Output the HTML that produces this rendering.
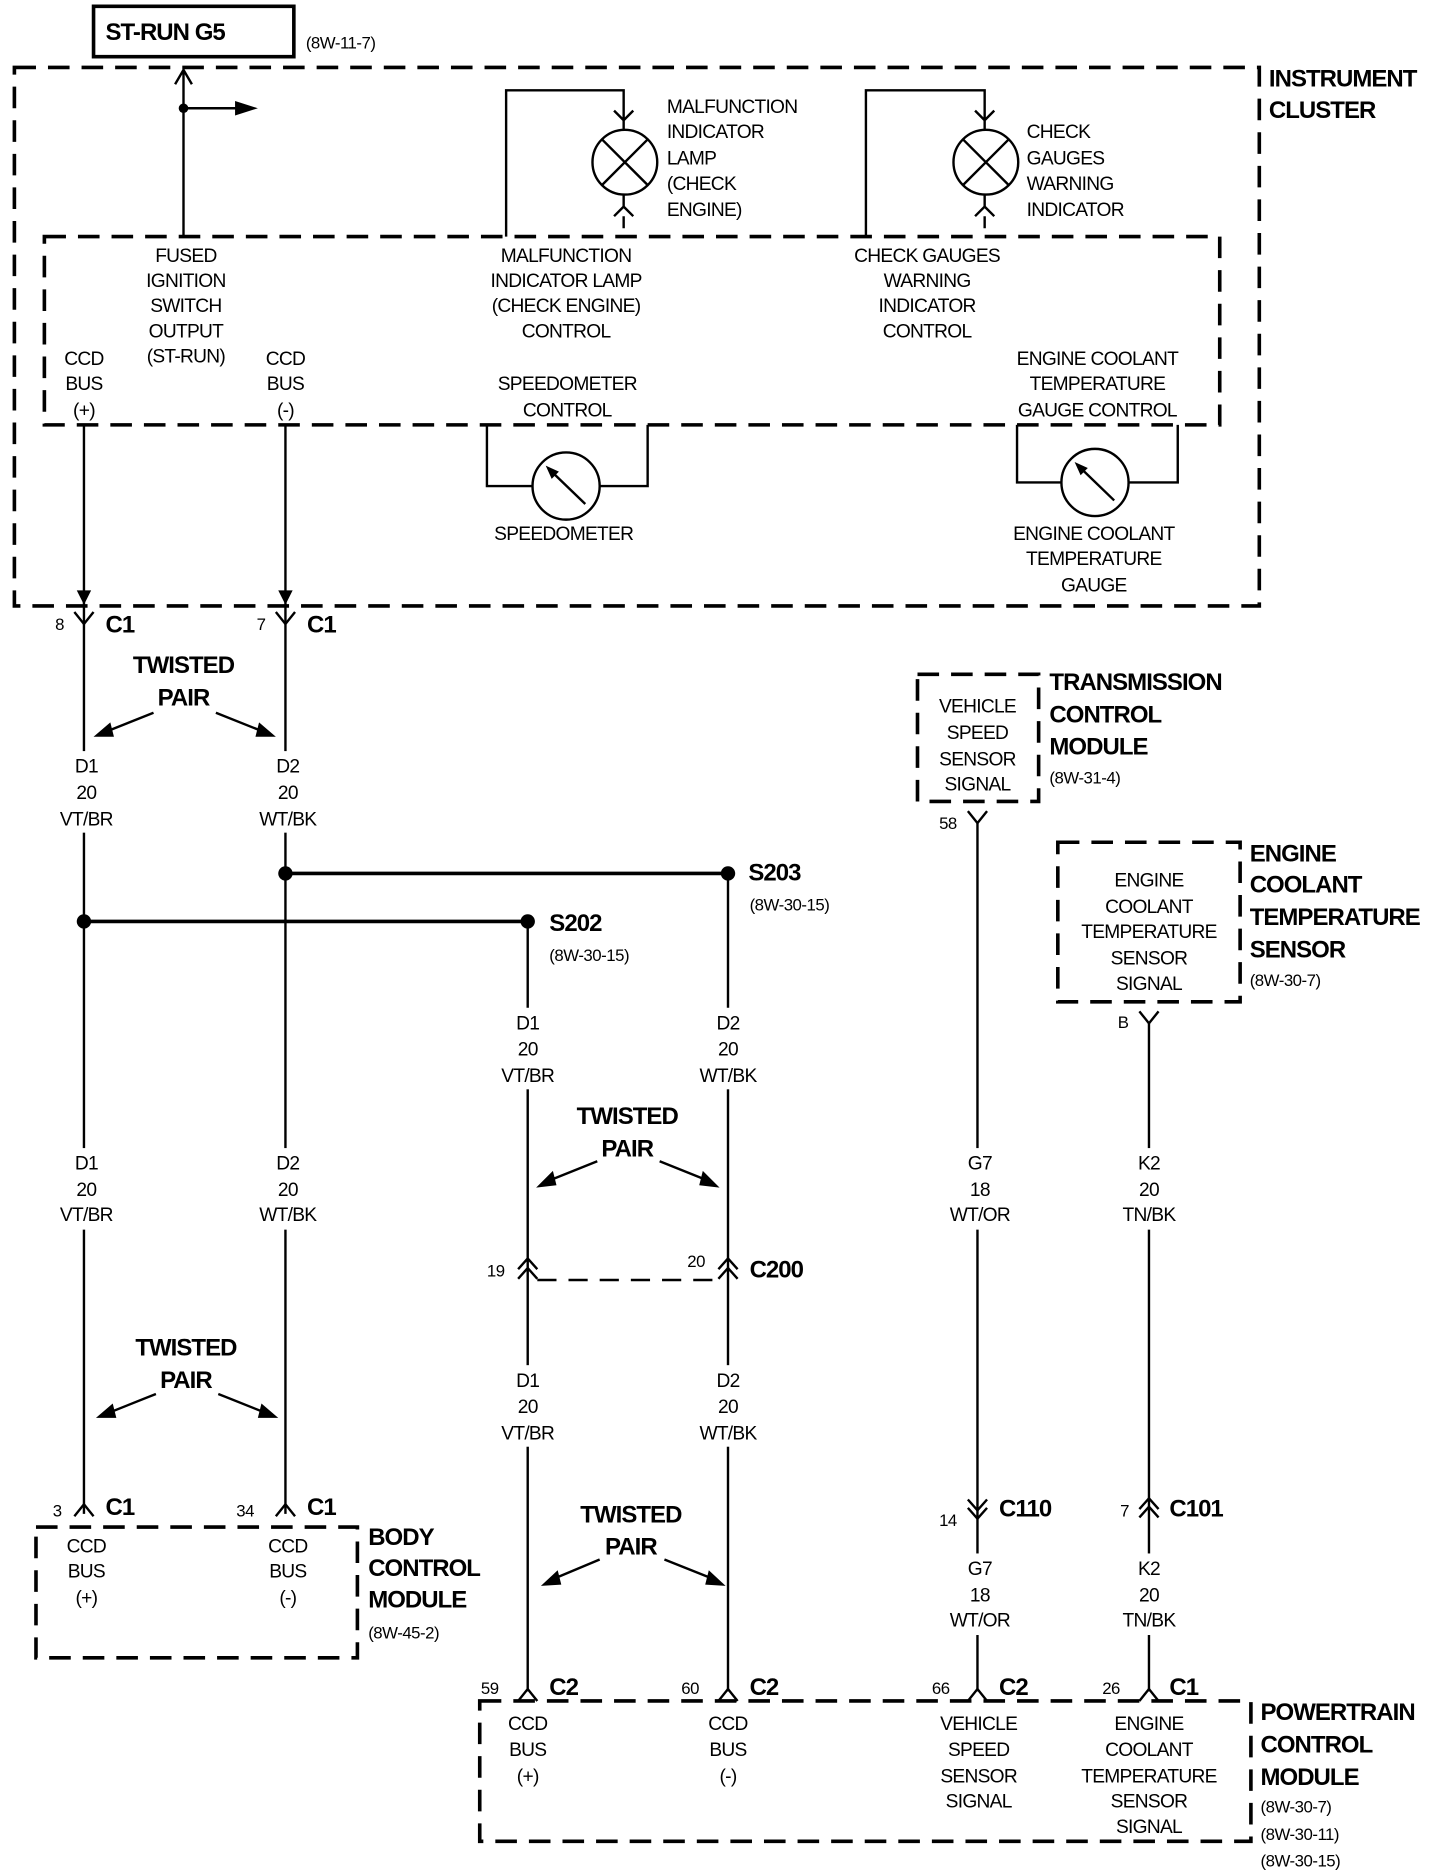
<!DOCTYPE html>
<html><head><meta charset="utf-8"><style>
html,body{margin:0;padding:0;background:#fff}
svg{display:block}
text{font-family:"Liberation Sans",Arial,sans-serif;fill:#000}
.t{font-size:16px;text-anchor:middle;letter-spacing:-0.6px}
.l{font-size:16px;letter-spacing:-0.6px}
.b{font-size:20px;font-weight:bold;letter-spacing:-0.8px}
.s{font-size:14px;letter-spacing:-0.4px}
.w{stroke:#000;stroke-width:2;fill:none}
.d{stroke:#000;stroke-width:3;fill:none;stroke-dasharray:18,10}
.d2{stroke:#000;stroke-width:2;fill:none;stroke-dasharray:16,10}
.g{fill:#fff}
</style></head><body>
<svg width="1456" height="1874" viewBox="0 0 1214 1562" xmlns="http://www.w3.org/2000/svg">
<rect x="0" y="0" width="1214" height="1562" fill="#fff"/>
<!-- ST-RUN -->
<rect x="78" y="5" width="167" height="42" fill="none" stroke="#000" stroke-width="3"/>
<text x="88" y="33" class="b">ST-RUN G5</text>
<text x="255" y="40" class="s">(8W-11-7)</text>
<rect x="12" y="56" width="1038" height="449" class="d"/>
<rect x="37" y="197" width="980" height="157" class="d"/>
<text x="1058" y="72" class="b">INSTRUMENT</text>
<text x="1058" y="98" class="b">CLUSTER</text>
<path class="w" d="M153 58V197M146 70L153 58L160 70M153 90H198"/>
<circle cx="153" cy="90" r="4"/>
<path d="M196 84L215 90L196 96Z"/>
<g class="t">
<text x="155" y="218">FUSED</text><text x="155" y="239">IGNITION</text><text x="155" y="260">SWITCH</text><text x="155" y="281">OUTPUT</text><text x="155" y="302">(ST-RUN)</text>
<text x="70" y="304">CCD</text><text x="70" y="325">BUS</text><text x="70" y="347">(+)</text>
<text x="238" y="304">CCD</text><text x="238" y="325">BUS</text><text x="238" y="347">(-)</text>
<text x="472" y="218">MALFUNCTION</text><text x="472" y="239">INDICATOR LAMP</text><text x="472" y="260">(CHECK ENGINE)</text><text x="472" y="281">CONTROL</text>
<text x="773" y="218">CHECK GAUGES</text><text x="773" y="239">WARNING</text><text x="773" y="260">INDICATOR</text><text x="773" y="281">CONTROL</text>
<text x="473" y="325">SPEEDOMETER</text><text x="473" y="347">CONTROL</text>
<text x="915" y="304">ENGINE COOLANT</text><text x="915" y="325">TEMPERATURE</text><text x="915" y="347">GAUGE CONTROL</text>
<text x="470" y="450">SPEEDOMETER</text>
<text x="912" y="450">ENGINE COOLANT</text><text x="912" y="471">TEMPERATURE</text><text x="912" y="493">GAUGE</text>
</g>
<path class="w" d="M422 197V75H520V100M512 92L520 100L528 92M520 100V108M520 162V172M512 180L520 172L528 180M520 180V190"/>
<circle cx="521" cy="135" r="27" class="w"/>
<path class="w" d="M502 116L540 154M540 116L502 154"/>
<g class="l"><text x="556" y="94">MALFUNCTION</text><text x="556" y="115">INDICATOR</text><text x="556" y="137">LAMP</text><text x="556" y="158">(CHECK</text><text x="556" y="180">ENGINE)</text></g>
<path class="w" d="M722 197V75H821V100M813 92L821 100L829 92M821 100V108M821 162V172M813 180L821 172L829 180M821 180V190"/>
<circle cx="822" cy="135" r="27" class="w"/>
<path class="w" d="M803 116L841 154M841 116L803 154"/>
<g class="l"><text x="856" y="115">CHECK</text><text x="856" y="137">GAUGES</text><text x="856" y="158">WARNING</text><text x="856" y="180">INDICATOR</text></g>
<path class="w" d="M406 354V405H444M540 354V405H500"/>
<circle cx="472" cy="405" r="28" class="w"/>
<path class="w" d="M459 392L488 420"/><path d="M455 388L466 393L460 399Z"/>
<path class="w" d="M848 354V402H885M982 354V402H941"/>
<circle cx="913" cy="402" r="28" class="w"/>
<path class="w" d="M900 389L929 417"/><path d="M896 385L907 390L901 396Z"/>
<!-- wires -->
<path class="w" d="M70 354V1262M238 354V1262M440 768V1410M607 728V1410M815 686V1410M958 853V1410"/>
<!-- label gaps -->
<g class="g">
<rect x="40" y="626" width="60" height="68"/><rect x="208" y="626" width="60" height="68"/>
<rect x="40" y="957" width="60" height="68"/><rect x="208" y="957" width="60" height="68"/>
<rect x="410" y="840" width="60" height="68"/><rect x="577" y="840" width="60" height="68"/>
<rect x="410" y="1138" width="60" height="68"/><rect x="577" y="1138" width="60" height="68"/>
<rect x="785" y="957" width="60" height="68"/><rect x="928" y="957" width="60" height="68"/>
<rect x="785" y="1295" width="60" height="68"/><rect x="928" y="1295" width="60" height="68"/>
</g>
<path d="M64 492L70 504L76 492Z M232 492L238 504L244 492Z"/>
<path class="w" d="M62 510L70 520L78 510M230 510L238 520L246 510"/>
<text x="46" y="525" class="s">8</text><text x="88" y="527" class="b">C1</text>
<text x="214" y="525" class="s">7</text><text x="256" y="527" class="b">C1</text>
<text x="153" y="561" class="b" text-anchor="middle">TWISTED</text><text x="153" y="588" class="b" text-anchor="middle">PAIR</text>
<path class="w" d="M128 594L88 610M180 594L220 610"/>
<path d="M78 614L92 602L95 614Z M230 614L216 602L213 614Z"/>
<g class="t">
<text x="72" y="644">D1</text><text x="72" y="666">20</text><text x="72" y="688">VT/BR</text>
<text x="240" y="644">D2</text><text x="240" y="666">20</text><text x="240" y="688">WT/BK</text>
<text x="72" y="975">D1</text><text x="72" y="997">20</text><text x="72" y="1018">VT/BR</text>
<text x="240" y="975">D2</text><text x="240" y="997">20</text><text x="240" y="1018">WT/BK</text>
</g>
<path stroke="#000" stroke-width="3" d="M238 728H607M70 768H440"/>
<circle cx="238" cy="728" r="6"/><circle cx="607" cy="728" r="6"/>
<circle cx="70" cy="768" r="6"/><circle cx="440" cy="768" r="6"/>
<text x="624" y="734" class="b">S203</text><text x="625" y="759" class="s">(8W-30-15)</text>
<text x="458" y="776" class="b">S202</text><text x="458" y="801" class="s">(8W-30-15)</text>
<text x="155" y="1130" class="b" text-anchor="middle">TWISTED</text><text x="155" y="1157" class="b" text-anchor="middle">PAIR</text>
<path class="w" d="M130 1162L90 1178M182 1162L222 1178"/>
<path d="M80 1182L94 1170L97 1182Z M232 1182L218 1170L215 1182Z"/>
<path class="w" d="M62 1264L70 1254L78 1264M230 1264L238 1254L246 1264"/>
<text x="44" y="1264" class="s">3</text><text x="88" y="1263" class="b">C1</text>
<text x="197" y="1264" class="s">34</text><text x="256" y="1263" class="b">C1</text>
<rect x="30" y="1273" width="268" height="109" class="d"/>
<g class="t">
<text x="72" y="1294">CCD</text><text x="72" y="1315">BUS</text><text x="72" y="1337">(+)</text>
<text x="240" y="1294">CCD</text><text x="240" y="1315">BUS</text><text x="240" y="1337">(-)</text>
</g>
<text x="307" y="1288" class="b">BODY</text><text x="307" y="1314" class="b">CONTROL</text><text x="307" y="1340" class="b">MODULE</text>
<text x="307" y="1366" class="s">(8W-45-2)</text>
<g class="t">
<text x="440" y="858">D1</text><text x="440" y="880">20</text><text x="440" y="902">VT/BR</text>
<text x="607" y="858">D2</text><text x="607" y="880">20</text><text x="607" y="902">WT/BK</text>
<text x="440" y="1156">D1</text><text x="440" y="1178">20</text><text x="440" y="1200">VT/BR</text>
<text x="607" y="1156">D2</text><text x="607" y="1178">20</text><text x="607" y="1200">WT/BK</text>
</g>
<text x="523" y="937" class="b" text-anchor="middle">TWISTED</text><text x="523" y="964" class="b" text-anchor="middle">PAIR</text>
<path class="w" d="M498 968L458 984M550 968L590 984"/>
<path d="M447 990L461 976L464 988Z M600 990L586 976L583 988Z"/>
<path class="w" d="M432 1058L440 1049L448 1058M432 1066L440 1057L448 1066M599 1058L607 1049L615 1058M599 1066L607 1057L615 1066"/>
<path class="d2" d="M448 1067H599"/>
<text x="406" y="1064" class="s">19</text><text x="573" y="1056" class="s">20</text>
<text x="625" y="1065" class="b">C200</text>
<text x="526" y="1269" class="b" text-anchor="middle">TWISTED</text><text x="526" y="1296" class="b" text-anchor="middle">PAIR</text>
<path class="w" d="M500 1300L462 1316M554 1300L594 1316"/>
<path d="M451 1322L465 1309L468 1321Z M605 1322L591 1309L588 1321Z"/>
<rect x="765" y="562" width="101" height="106" class="d"/>
<g class="t"><text x="815" y="594">VEHICLE</text><text x="815" y="616">SPEED</text><text x="815" y="638">SENSOR</text><text x="815" y="659">SIGNAL</text></g>
<text x="875" y="575" class="b">TRANSMISSION</text><text x="875" y="602" class="b">CONTROL</text><text x="875" y="629" class="b">MODULE</text>
<text x="875" y="653" class="s">(8W-31-4)</text>
<path class="w" d="M807 676L815 686L823 676"/>
<text x="783" y="691" class="s">58</text>
<g class="t">
<text x="817" y="975">G7</text><text x="817" y="997">18</text><text x="817" y="1018">WT/OR</text>
<text x="817" y="1313">G7</text><text x="817" y="1335">18</text><text x="817" y="1356">WT/OR</text>
<text x="958" y="975">K2</text><text x="958" y="997">20</text><text x="958" y="1018">TN/BK</text>
<text x="958" y="1313">K2</text><text x="958" y="1335">20</text><text x="958" y="1356">TN/BK</text>
</g>
<path class="w" d="M807 1250L815 1259L823 1250M807 1257L815 1266L823 1257"/>
<text x="783" y="1272" class="s">14</text><text x="833" y="1264" class="b">C110</text>
<rect x="882" y="702" width="152" height="133" class="d"/>
<g class="t"><text x="958" y="739">ENGINE</text><text x="958" y="761">COOLANT</text><text x="958" y="782">TEMPERATURE</text><text x="958" y="804">SENSOR</text><text x="958" y="825">SIGNAL</text></g>
<text x="1042" y="718" class="b">ENGINE</text><text x="1042" y="744" class="b">COOLANT</text><text x="1042" y="771" class="b">TEMPERATURE</text><text x="1042" y="798" class="b">SENSOR</text>
<text x="1042" y="822" class="s">(8W-30-7)</text>
<path class="w" d="M950 843L958 853L966 843"/>
<text x="932" y="857" class="s">B</text>
<path class="w" d="M950 1258L958 1249L966 1258M950 1265L958 1256L966 1265"/>
<text x="934" y="1264" class="s">7</text><text x="975" y="1264" class="b">C101</text>
<path class="w" d="M432 1418L440 1408L448 1418M599 1418L607 1408L615 1418M807 1418L815 1408L823 1418M950 1418L958 1408L966 1418"/>
<text x="401" y="1412" class="s">59</text><text x="458" y="1413" class="b">C2</text>
<text x="568" y="1412" class="s">60</text><text x="625" y="1413" class="b">C2</text>
<text x="777" y="1412" class="s">66</text><text x="833" y="1413" class="b">C2</text>
<text x="919" y="1412" class="s">26</text><text x="975" y="1413" class="b">C1</text>
<rect x="400" y="1418" width="643" height="117" class="d"/>
<g class="t">
<text x="440" y="1442">CCD</text><text x="440" y="1464">BUS</text><text x="440" y="1486">(+)</text>
<text x="607" y="1442">CCD</text><text x="607" y="1464">BUS</text><text x="607" y="1486">(-)</text>
<text x="816" y="1442">VEHICLE</text><text x="816" y="1464">SPEED</text><text x="816" y="1486">SENSOR</text><text x="816" y="1507">SIGNAL</text>
<text x="958" y="1442">ENGINE</text><text x="958" y="1464">COOLANT</text><text x="958" y="1486">TEMPERATURE</text><text x="958" y="1507">SENSOR</text><text x="958" y="1528">SIGNAL</text>
</g>
<text x="1051" y="1434" class="b">POWERTRAIN</text><text x="1051" y="1461" class="b">CONTROL</text><text x="1051" y="1488" class="b">MODULE</text>
<text x="1051" y="1511" class="s">(8W-30-7)</text><text x="1051" y="1534" class="s">(8W-30-11)</text><text x="1051" y="1556" class="s">(8W-30-15)</text>
</svg>
</body></html>
